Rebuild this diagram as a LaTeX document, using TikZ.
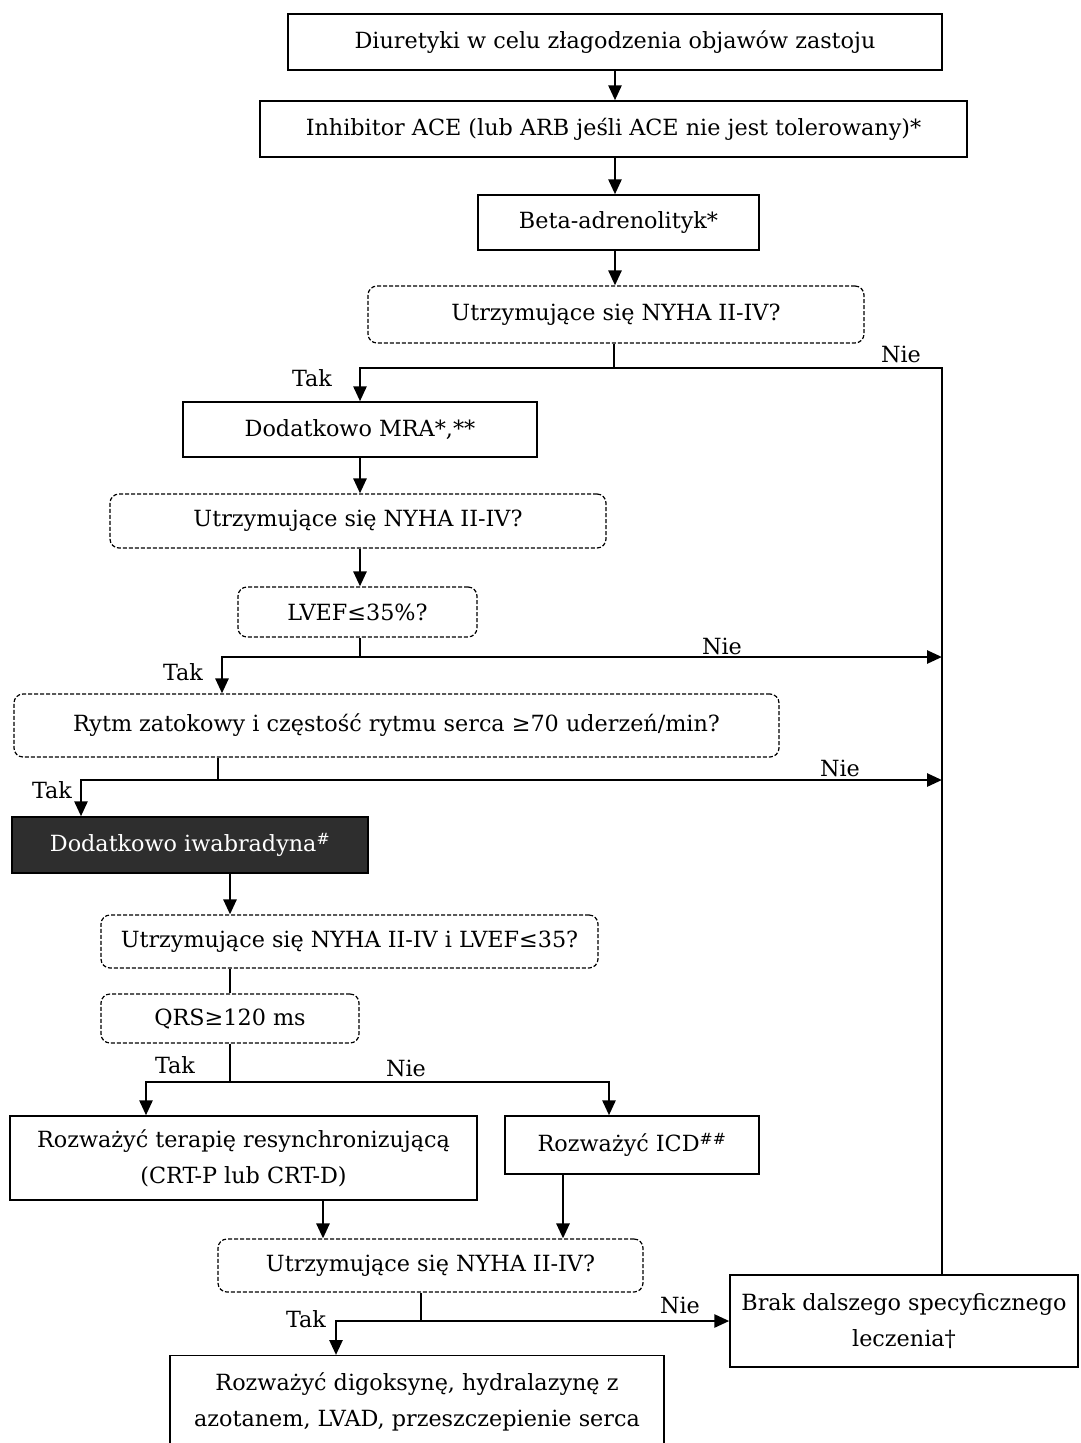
\documentclass[tikz,border=0pt]{standalone}
\usepackage{fontspec}
\setmainfont{DejaVu Serif}
\usetikzlibrary{arrows.meta}
\begin{document}
\begin{tikzpicture}[x=1pt,y=-1pt,
  txt/.style={font=\fontsize{22.3}{36}\selectfont},
  box/.style={txt, draw, line width=1.4pt, inner sep=0pt, align=center},
  dbox/.style={txt, draw, line width=1.2pt, dash pattern=on 4pt off 2pt, rounded corners=9pt, inner sep=0pt, align=center},
  arr/.style={line width=2.7pt, -{Triangle[length=15pt,width=13pt]}},
  ln/.style={line width=1.3pt},
  vline/.style={line width=1.9pt},
  lbl/.style={txt, inner sep=0pt}]
\useasboundingbox (0,0) rectangle (1080,1443);
% nodes
\node[box, minimum width=654pt, minimum height=56pt] (b1) at (615,42) {Diuretyki w celu złagodzenia objawów zastoju};
\node[box, minimum width=707pt, minimum height=56pt] (b2) at (613.5,129) {Inhibitor ACE (lub ARB jeśli ACE nie jest tolerowany)*};
\node[box, minimum width=281pt, minimum height=55pt] (b3) at (618.5,222.5) {Beta-adrenolityk*};
\node[dbox, minimum width=496pt, minimum height=57pt] (d4) at (616,314.5) {Utrzymujące się NYHA II-IV?};
\node[box, minimum width=354pt, minimum height=55pt] (b5) at (360,429.5) {Dodatkowo MRA*,**};
\node[dbox, minimum width=496pt, minimum height=54pt] (d6) at (358,521) {Utrzymujące się NYHA II-IV?};
\node[dbox, minimum width=239pt, minimum height=50pt] (d7) at (357.5,612) {LVEF≤35\%?};
\node[dbox, minimum width=765pt, minimum height=63pt] (d8) at (396.5,725.5) {Rytm zatokowy i częstość rytmu serca ≥70 uderzeń/min?};
\node[box, fill=black!82, text=white, minimum width=356pt, minimum height=56pt] (b9) at (190,845) {Dodatkowo iwabradyna\textsuperscript{\#}};
\node[dbox, minimum width=497pt, minimum height=53pt] (d10) at (349.5,941.5) {Utrzymujące się NYHA II-IV i LVEF≤35?};
\node[dbox, minimum width=258pt, minimum height=49pt] (d11) at (230,1018.5) {QRS≥120 ms};
\node[box, minimum width=467pt, minimum height=84pt] (b12) at (243.5,1158) {Rozważyć terapię resynchronizującą\\(CRT-P lub CRT-D)};
\node[box, minimum width=254pt, minimum height=58pt] (b13) at (632,1145) {Rozważyć ICD\textsuperscript{\#\#}};
\node[dbox, minimum width=425pt, minimum height=53pt] (d14) at (430.5,1265.5) {Utrzymujące się NYHA II-IV?};
\node[box, minimum width=348pt, minimum height=92pt] (b15) at (904,1321) {Brak dalszego specyficznego\\leczenia†};
\node[box, minimum width=494pt, minimum height=92pt, anchor=north] (b16) at (417,1355) {};
\node[txt, align=center] (b16t) at (417,1402) {Rozważyć digoksynę, hydralazynę z\\azotanem, LVAD, przeszczepienie serca};
% labels
\node[lbl] (tak1) at (312,378) {Tak};
\node[lbl] (nie1) at (901,354) {Nie};
\node[lbl] (nie2) at (722,646) {Nie};
\node[lbl] (tak2) at (183,672) {Tak};
\node[lbl] (nie3) at (840,768) {Nie};
\node[lbl] (tak3) at (52,790) {Tak};
\node[lbl] (tak4) at (175,1065) {Tak};
\node[lbl] (nie4) at (406,1068) {Nie};
\node[lbl] (tak5) at (306,1319) {Tak};
\node[lbl] (nie5) at (680,1305) {Nie};
% coordinates
\coordinate (t1) at (360,368);
\coordinate (n1) at (942,368);
\coordinate (t2) at (222,657);
\coordinate (t3) at (81,780);
\coordinate (s3) at (218,780);
\coordinate (t4) at (146,1082);
\coordinate (n4) at (609,1082);
\coordinate (a12) at (323,1200);
\coordinate (a13) at (563,1174);
\coordinate (s5) at (421,1321);
\coordinate (t5) at (336,1321);
% connectors
\draw[arr] (b1.south -| 615,0) -- (b2.north -| 615,0);
\draw[arr] (b2.south -| 615,0) -- (b3.north -| 615,0);
\draw[arr] (b3.south -| 615,0) -- (d4.north -| 615,0);
\draw[ln] (d4.south -| 614,0) -- (t1 -| 614,0);
\draw[arr, line cap=rect] (n1) -- (t1) -- (t1 |- b5.north);
\draw[vline] (n1) -- (n1 |- b15.north);
\draw[arr] (b5.south -| t1) -- (d6.north -| t1);
\draw[arr] (d6.south -| t1) -- (d7.north -| t1);
\draw[ln] (d7.south -| t1) -- (t2 -| t1);
\draw[arr, line cap=rect] (t2) -- (n1 |- t2);
\draw[arr, line cap=rect] (t2) -- (t2 |- d8.north);
\draw[ln] (s3 |- d8.south) -- (s3);
\draw[arr, line cap=rect] (s3) -- (n1 |- s3);
\draw[arr, line cap=rect] (s3) -- (t3) -- (t3 |- b9.north);
\draw[arr] (b9.south -| 230,0) -- (d10.north -| 230,0);
\draw[ln] (d10.south -| d11.north) -- (d11.north);
\draw[ln] (d11.south) -- (d11.south |- t4);
\draw[arr, line cap=rect] (n4) -- (t4) -- (t4 |- b12.north);
\draw[arr, line cap=rect] (t4) -- (n4) -- (n4 |- b13.north);
\draw[arr] (a12) -- (a12 |- d14.north);
\draw[arr] (a13) -- (a13 |- d14.north);
\draw[ln] (s5 |- d14.south) -- (s5);
\draw[arr, line cap=rect] (s5) -- (b15.west);
\draw[arr, line cap=rect] (s5) -- (t5) -- (t5 |- b16.north);
\end{tikzpicture}
\end{document}
